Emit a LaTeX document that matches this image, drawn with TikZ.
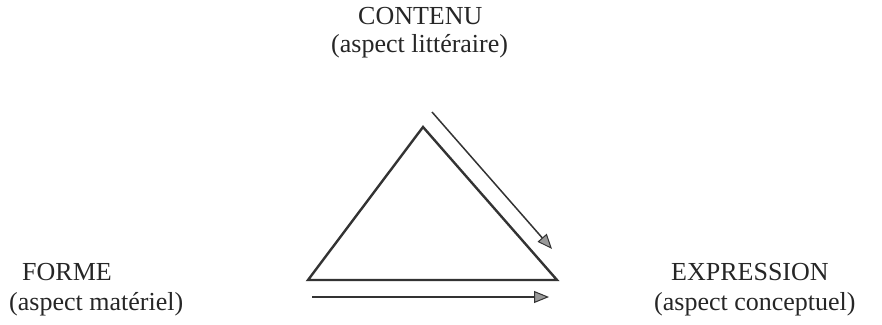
\documentclass[tikz,border=0pt]{standalone}
\usepackage{fontspec}
\setmainfont{Liberation Serif}
\usetikzlibrary{arrows.meta}
\begin{document}
\begin{tikzpicture}[x=1pt,y=-1pt,
  lbl/.style={inner sep=0pt,anchor=base west,font=\fontsize{26}{30}\selectfont,text=black!85},
  tri/.style={line width=2.4pt,draw=black!80,line join=miter},
  flow/.style={line width=1.5pt,draw=black!80,-{Triangle[length=15pt,width=12pt,fill=black!40,line width=1pt]}}]
\useasboundingbox (0,0) rectangle (882,324);
% labels
\node[lbl] (contenu) at (358,24) {CONTENU};
\node[lbl] (contenuA) at (331,52) {(aspect littéraire)};
\node[lbl] (forme) at (22,280) {FORME};
\node[lbl] (formeA) at (9,310) {(aspect matériel)};
\node[lbl] (expr) at (671,280) {EXPRESSION};
\node[lbl] (exprA) at (654,310) {(aspect conceptuel)};
% triangle
\coordinate (top) at (423,127);
\coordinate (bl) at (308,280);
\coordinate (br) at (557,280);
\draw[tri] (top) -- (bl) -- (br) -- cycle;
% arrows
\coordinate (d1) at (432,112);
\coordinate (d2) at (552,249);
\coordinate (h1) at (312,297);
\coordinate (h2) at (549,297);
\draw[flow] (d1) -- (d2);
\draw[flow] (h1) -- (h2);
\end{tikzpicture}
\end{document}
